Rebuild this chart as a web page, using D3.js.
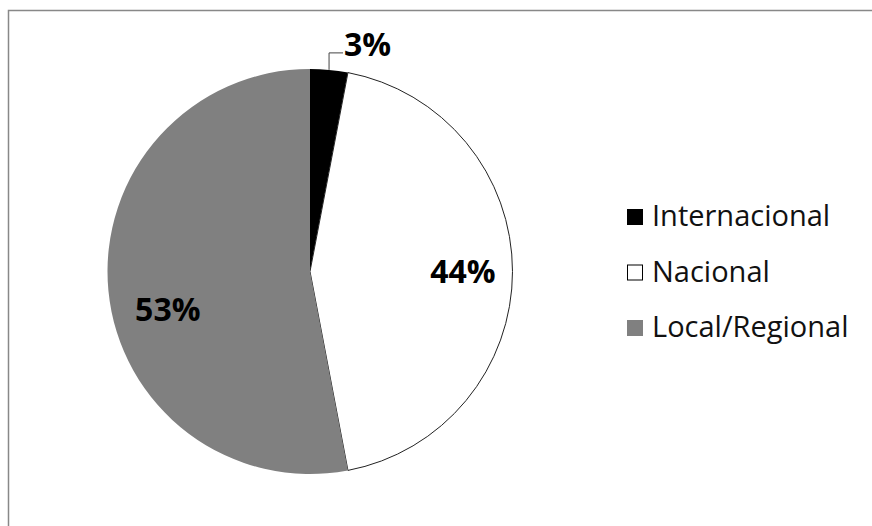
<!DOCTYPE html>
<html><head><meta charset="utf-8">
<script src="https://cdn.jsdelivr.net/npm/d3@7"></script>
<style>body{margin:0;background:#fff}</style>
</head><body>
<svg id="c" width="872" height="526"></svg>
<script>
const categories = ["Internacional", "Nacional", "Local/Regional"];
const values = [3, 44, 53];
const colors = ["#000000", "#ffffff", "#808080"];
const labels = ["3%", "44%", "53%"];

const svg = d3.select("#c");
svg.append("rect").attr("x", 8.5).attr("y", 10.5).attr("width", 880).attr("height", 540)
  .attr("fill", "#fff").attr("stroke", "#888").attr("stroke-width", 1.5);

const cx = 310, cy = 271.5, r = 202.5;
const g = svg.append("g").attr("transform", `translate(${cx},${cy})`);
const pie = d3.pie().sort(null).value(d => d)(values);
const arc = d3.arc().innerRadius(0).outerRadius(r);
g.selectAll("path").data(pie).join("path")
  .attr("d", arc)
  .attr("fill", (d, i) => colors[i])
  .attr("stroke", (d, i) => i === 1 ? "#222" : "none")
  .attr("stroke-width", 1);

const font = "'Open Sans', Lato, sans-serif";
const fs = 32;
// 3% label with leader line
const a0 = (pie[0].startAngle + pie[0].endAngle) / 2;
const ex = Math.sin(a0) * r, ey = -Math.cos(a0) * r;
g.append("polyline")
  .attr("points", `${ex},${ey} ${ex},${ey - 17} ${ex + 14},${ey - 17}`)
  .attr("fill", "none").attr("stroke", "#444").attr("stroke-width", 1);
g.append("text").attr("x", ex + 15).attr("y", ey - 14)
  .attr("text-anchor", "start").attr("font-family", font).attr("font-weight", "bold")
  .attr("font-size", fs).text(labels[0]);
// inner labels
const lblArc = d3.arc().innerRadius(r * 0.755).outerRadius(r * 0.755);
const nudge = [[0, 0], [0, 0], [10, 24]];
[1, 2].forEach(i => {
  const c = lblArc.centroid(pie[i]);
  g.append("text").attr("x", c[0] + nudge[i][0]).attr("y", c[1] + nudge[i][1] + 11.5)
    .attr("text-anchor", "middle").attr("font-family", font).attr("font-weight", "bold")
    .attr("font-size", fs).attr("fill", "#000").text(labels[i]);
});

// legend
const lg = svg.append("g").attr("transform", "translate(627,226)");
categories.forEach((c, i) => {
  const row = lg.append("g").attr("transform", `translate(0,${i * 55.5})`);
  row.append("rect").attr("x", 0.5).attr("y", -16.5).attr("width", 15).attr("height", 15)
    .attr("fill", colors[i]).attr("stroke", i === 1 ? "#000" : colors[i]).attr("stroke-width", 1);
  row.append("text").attr("x", 25).attr("y", 0).attr("font-family", font)
    .attr("font-size", 29).attr("fill", "#111").text(c);
});
</script>
</body></html>
